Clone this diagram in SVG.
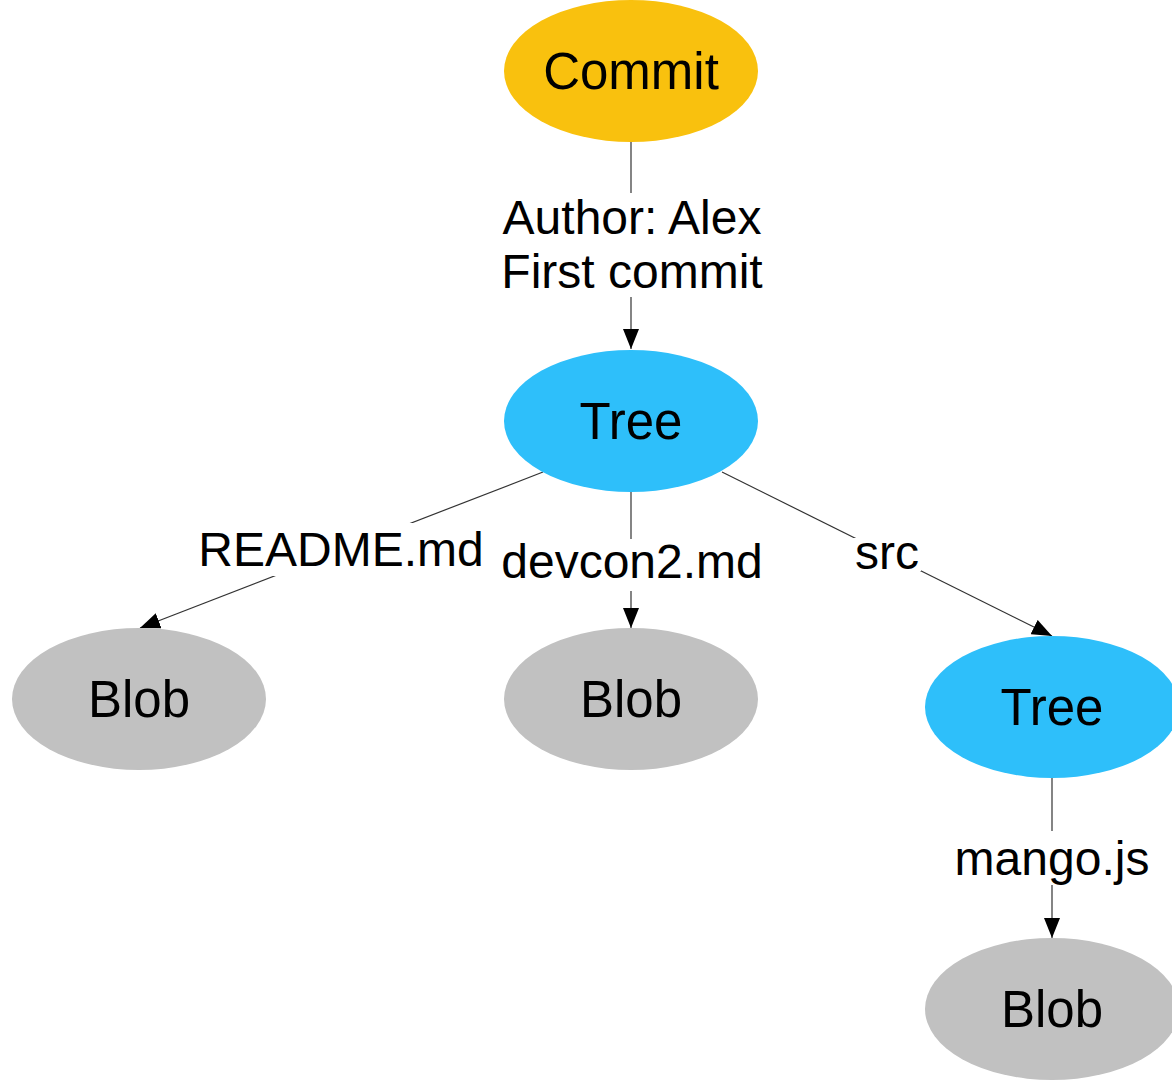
<svg xmlns="http://www.w3.org/2000/svg" width="1172" height="1080" viewBox="0 0 1172 1080">
<style>
.commit{fill:#F9C10E}
.tree{fill:#2EBFFA}
.blob{fill:#C1C1C1}
.nl{font-family:"Liberation Sans",Arial,sans-serif;font-size:51px;fill:#000;text-anchor:middle}
.el{font-family:"Liberation Sans",Arial,sans-serif;font-size:48px;fill:#000;text-anchor:middle}
.edge{stroke:#333;stroke-width:1.2;fill:none;marker-end:url(#arr)}
.bg{fill:#fff}
</style>
<defs>
<marker id="arr" markerUnits="userSpaceOnUse" markerWidth="22" markerHeight="16" refX="20" refY="8" orient="auto">
<path d="M0,0 L20,8 L0,16 z" fill="#000"/>
</marker>
</defs>
<rect width="1172" height="1080" fill="#fff"/>
<g id="connectors">
<line class="edge" x1="631" y1="142" x2="631" y2="349"/>
<line class="edge" x1="543" y1="472" x2="140" y2="628"/>
<line class="edge" x1="631" y1="492" x2="631" y2="628"/>
<line class="edge" x1="722" y1="472" x2="1052" y2="636"/>
<line class="edge" x1="1052" y1="778" x2="1052" y2="938"/>
<g id="edge-labels">
<rect class="bg" x="498" y="193" width="268" height="104"/>
<text class="el" x="632" y="234">Author: Alex</text>
<text class="el" x="632" y="288">First commit</text>
<rect class="bg" x="196" y="523" width="290" height="53"/>
<text class="el" x="341" y="566">README.md</text>
<rect class="bg" x="498" y="539" width="268" height="52"/>
<text class="el" x="632" y="578">devcon2.md</text>
<rect class="bg" x="853" y="538" width="68" height="33"/>
<text class="el" x="887" y="569">src</text>
<rect class="bg" x="952" y="831" width="200" height="54"/>
<text class="el" x="1052" y="875">mango.js</text>
</g>
</g>
<g id="commit">
<ellipse class="commit" cx="631" cy="71" rx="127" ry="71"/>
<text class="nl" x="631" y="89">Commit</text>
</g>
<g id="tree-root">
<ellipse class="tree" cx="631" cy="421" rx="127" ry="71"/>
<text class="nl" x="631" y="439">Tree</text>
</g>
<g id="blob-readme">
<ellipse class="blob" cx="139" cy="699" rx="127" ry="71"/>
<text class="nl" x="139" y="717">Blob</text>
</g>
<g id="blob-devcon2">
<ellipse class="blob" cx="631" cy="699" rx="127" ry="71"/>
<text class="nl" x="631" y="717">Blob</text>
</g>
<g id="tree-src">
<ellipse class="tree" cx="1052" cy="707" rx="127" ry="71"/>
<text class="nl" x="1052" y="725">Tree</text>
</g>
<g id="blob-mango">
<ellipse class="blob" cx="1052" cy="1009" rx="127" ry="71"/>
<text class="nl" x="1052" y="1027">Blob</text>
</g>
</svg>
